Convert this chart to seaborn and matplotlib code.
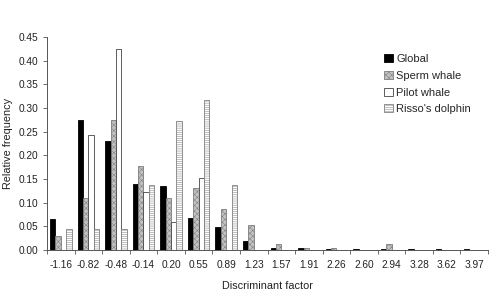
import numpy as np
import pandas as pd
import matplotlib
matplotlib.use("Agg")
import matplotlib.pyplot as plt
import matplotlib.patches as mpatches
import seaborn as sns

# categories (discriminant factor bins)
factors = ["-1.16", "-0.82", "-0.48", "-0.14", "0.20", "0.55", "0.89", "1.23",
           "1.57", "1.91", "2.26", "2.60", "2.94", "3.28", "3.62", "3.97"]
groups = ["Global", "Sperm whale", "Pilot whale", "Risso's dolphin"]

nan = np.nan
global_freq = [0.065, 0.275, 0.230, 0.140, 0.135, 0.068, 0.048, 0.018,
               0.005, 0.004, 0.002, 0.002, 0.002, 0.002, 0.002, 0.002]
sperm_freq = [0.030, 0.110, 0.275, 0.178, 0.110, 0.130, 0.086, 0.052,
              0.012, 0.004, 0.005, nan, 0.013, nan, nan, nan]
pilot_freq = [nan, 0.243, 0.425, 0.122, 0.060, 0.152, nan, nan,
              nan, nan, nan, nan, nan, nan, nan, nan]
risso_freq = [0.045, 0.045, 0.045, 0.137, 0.273, 0.318, 0.137, nan,
              nan, nan, nan, nan, nan, nan, nan, nan]

rows = []
for g, vals in zip(groups, [global_freq, sperm_freq, pilot_freq, risso_freq]):
    for f, v in zip(factors, vals):
        rows.append({"factor": f, "group": g, "freq": v})
df = pd.DataFrame(rows)

sns.set_style("white")
plt.rcParams["font.family"] = ["Liberation Sans", "DejaVu Sans"]
plt.rcParams["hatch.linewidth"] = 0.35

fig, ax = plt.subplots(figsize=(4.92, 2.92), dpi=100)
fig.subplots_adjust(left=0.0955, right=0.992, bottom=0.144, top=0.873)

sns.barplot(data=df.dropna(), x="factor", y="freq", hue="group",
            order=factors, hue_order=groups, width=0.78, ax=ax,
            legend=False, errorbar=None, saturation=1)

styles = {
    "Global": dict(facecolor="black", edgecolor="black", hatch=None),
    "Sperm whale": dict(facecolor="#c2c2c2", edgecolor="#7c7c7c", hatch="xxxxxx"),
    "Pilot whale": dict(facecolor="white", edgecolor="#444444", hatch=None),
    "Risso's dolphin": dict(facecolor="white", edgecolor="#808080", hatch="--------"),
}
for cont, g in zip(ax.containers, groups):
    for bar in cont:
        bar.set_facecolor(styles[g]["facecolor"])
        bar.set_edgecolor(styles[g]["edgecolor"])
        bar.set_linewidth(0.6)
        if styles[g]["hatch"]:
            bar.set_hatch(styles[g]["hatch"])

ax.set_xlim(-0.5, len(factors) - 0.5)
ax.set_ylim(0, 0.45)
ax.set_yticks(np.arange(0, 0.451, 0.05))
ax.set_yticklabels([f"{v:.2f}" for v in np.arange(0, 0.451, 0.05)])
ax.set_xticks(np.arange(-0.5, len(factors), 1.0), minor=True)
ax.tick_params(axis="x", which="major", length=0, pad=7, labelsize=7.3, colors="#222222")
ax.tick_params(axis="x", which="minor", length=3, width=0.6, color="#555555", bottom=True)
ax.tick_params(axis="y", length=3, width=0.6, color="#555555", labelsize=7.3,
               colors="#222222", left=True)
for side in ["top", "right"]:
    ax.spines[side].set_visible(False)
for side in ["left", "bottom"]:
    ax.spines[side].set_color("#555555")
    ax.spines[side].set_linewidth(0.7)

ax.set_xlabel("Discriminant factor", fontsize=7.8, color="#222222", labelpad=8)
ax.set_ylabel("Relative frequency", fontsize=7.8, color="#222222", labelpad=4)

handles = [mpatches.Patch(label=g, linewidth=0.6, **styles[g]) for g in groups]
ax.legend(handles=handles, loc="upper left", bbox_to_anchor=(0.755, 0.94),
          frameon=False, fontsize=8, handlelength=0.75, handleheight=0.75,
          handletextpad=0.3, labelspacing=0.6, borderaxespad=0)

fig.savefig("out.png", dpi=100)
